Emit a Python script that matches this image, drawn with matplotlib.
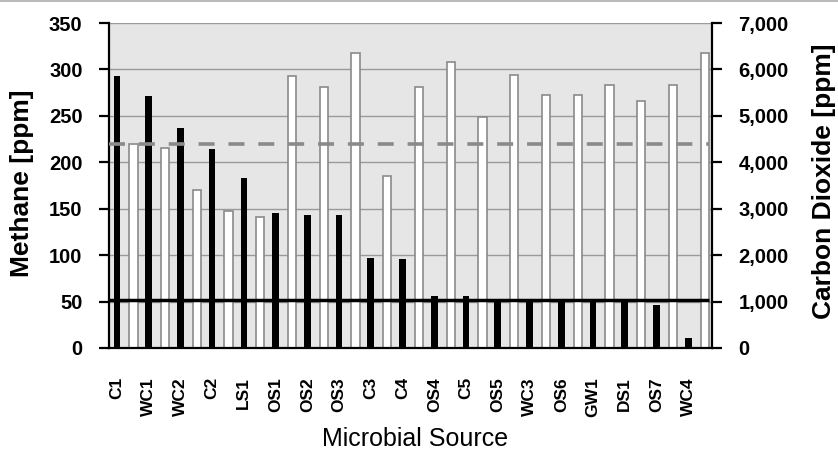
import matplotlib
matplotlib.use("Agg")
import matplotlib.pyplot as plt
import numpy as np
from matplotlib.ticker import FuncFormatter, MultipleLocator
from matplotlib.lines import Line2D

plt.rcParams['font.family'] = ['Liberation Sans', 'DejaVu Sans']
plt.rcParams['lines.scale_dashes'] = False

categories = ["C1", "WC1", "WC2", "C2", "LS1", "OS1", "OS2", "OS3", "C3", "C4",
              "OS4", "C5", "OS5", "WC3", "OS6", "GW1", "DS1", "OS7", "WC4"]
methane = [293, 271, 237, 214, 183, 145, 143, 143, 97, 96,
           56, 56, 52, 52, 51, 50, 50, 46, 11]
co2 = [4400, 4300, 3400, 2960, 2820, 5860, 5630, 6350, 3710, 5630,
       6170, 4970, 5880, 5450, 5450, 5670, 5310, 5670, 6350]
methane_line = 52
co2_line = 4400

fig = plt.figure(figsize=(8.38, 4.53), dpi=100)
ax2 = fig.add_axes([0.130, 0.2318, 0.7197, 0.7174])
ax = ax2.twinx()  # methane axis drawn on top
ax.set_zorder(ax2.get_zorder() + 1)
ax.patch.set_visible(False)
ax.xaxis.set_visible(True)

ax.yaxis.tick_left()
ax.yaxis.set_label_position("left")
ax2.yaxis.tick_right()
ax2.yaxis.set_label_position("right")

ax2.set_facecolor("#e6e6e6")
x = np.arange(len(categories))

ax2.bar(x + 0.27, co2, width=0.26, color="white", edgecolor="#8a8a8a",
        linewidth=1.2, zorder=2)
ax.bar(x - 0.25, methane, width=0.21, color="black", zorder=2)

x_end = len(categories) - 0.6
ax.plot([-0.5, x_end], [methane_line, methane_line], color="black",
        linewidth=2.5, zorder=4, solid_capstyle="butt")
ax.plot([-0.5, x_end], [co2_line, co2_line], color="#8a8a8a",
        linewidth=2.6, dashes=(11.5, 10), zorder=4,
        transform=ax2.transData, dash_capstyle="butt")

ax.set_xlim(-0.5, len(categories) - 0.5)
ax2.set_xlim(-0.5, len(categories) - 0.5)
ax.set_ylim(0, 350)
ax2.set_ylim(0, 7000)
ax.yaxis.set_major_locator(MultipleLocator(50))
ax2.yaxis.set_major_locator(MultipleLocator(1000))
ax2.yaxis.set_major_formatter(FuncFormatter(lambda v, p: f"{int(v):,}"))

ax2.set_axisbelow(True)
ax2.yaxis.grid(True, color="#9a9a9a", linewidth=1.0)
ax2.xaxis.grid(False)

for a in (ax, ax2):
    for s in a.spines.values():
        s.set_visible(False)
ax.spines['left'].set_visible(True)
ax.spines['bottom'].set_visible(True)
ax2.spines['right'].set_visible(True)
for a, side in ((ax, 'left'), (ax, 'bottom'), (ax2, 'right')):
    a.spines[side].set_linewidth(1.6)
    a.spines[side].set_color("black")

ax.tick_params(axis='y', direction='out', length=7, width=1.6, pad=12,
               labelsize=14.5)
ax2.tick_params(axis='y', direction='out', length=7, width=1.6, pad=12,
                labelsize=14.5)
ax.set_xticks(x - 0.25)
ax.set_xticklabels(categories, rotation=90, fontsize=12.5)
ax.tick_params(axis='x', length=0, pad=21, labelbottom=True)
ax2.tick_params(axis='x', length=0, labelbottom=False)
for lab in ax.get_yticklabels() + ax2.get_yticklabels() + ax.get_xticklabels():
    lab.set_fontweight("bold")

fig.text(22.5 / 838, 1 - 183 / 453, "Methane [ppm]", rotation=90,
         ha="center", va="center", fontsize=19, fontweight="bold")
fig.text(824 / 838, 1 - 181 / 453, "Carbon Dioxide [ppm]", rotation=90,
         ha="center", va="center", fontsize=19, fontweight="bold")
fig.text(415 / 838, 1 - 439 / 453, "Microbial Source", ha="center",
         va="center", fontsize=18)

fig.add_artist(Line2D([0, 1], [0.998, 0.998], transform=fig.transFigure,
                      color="#bbbbbb", linewidth=1.5))

fig.savefig("out.png", dpi=100)
